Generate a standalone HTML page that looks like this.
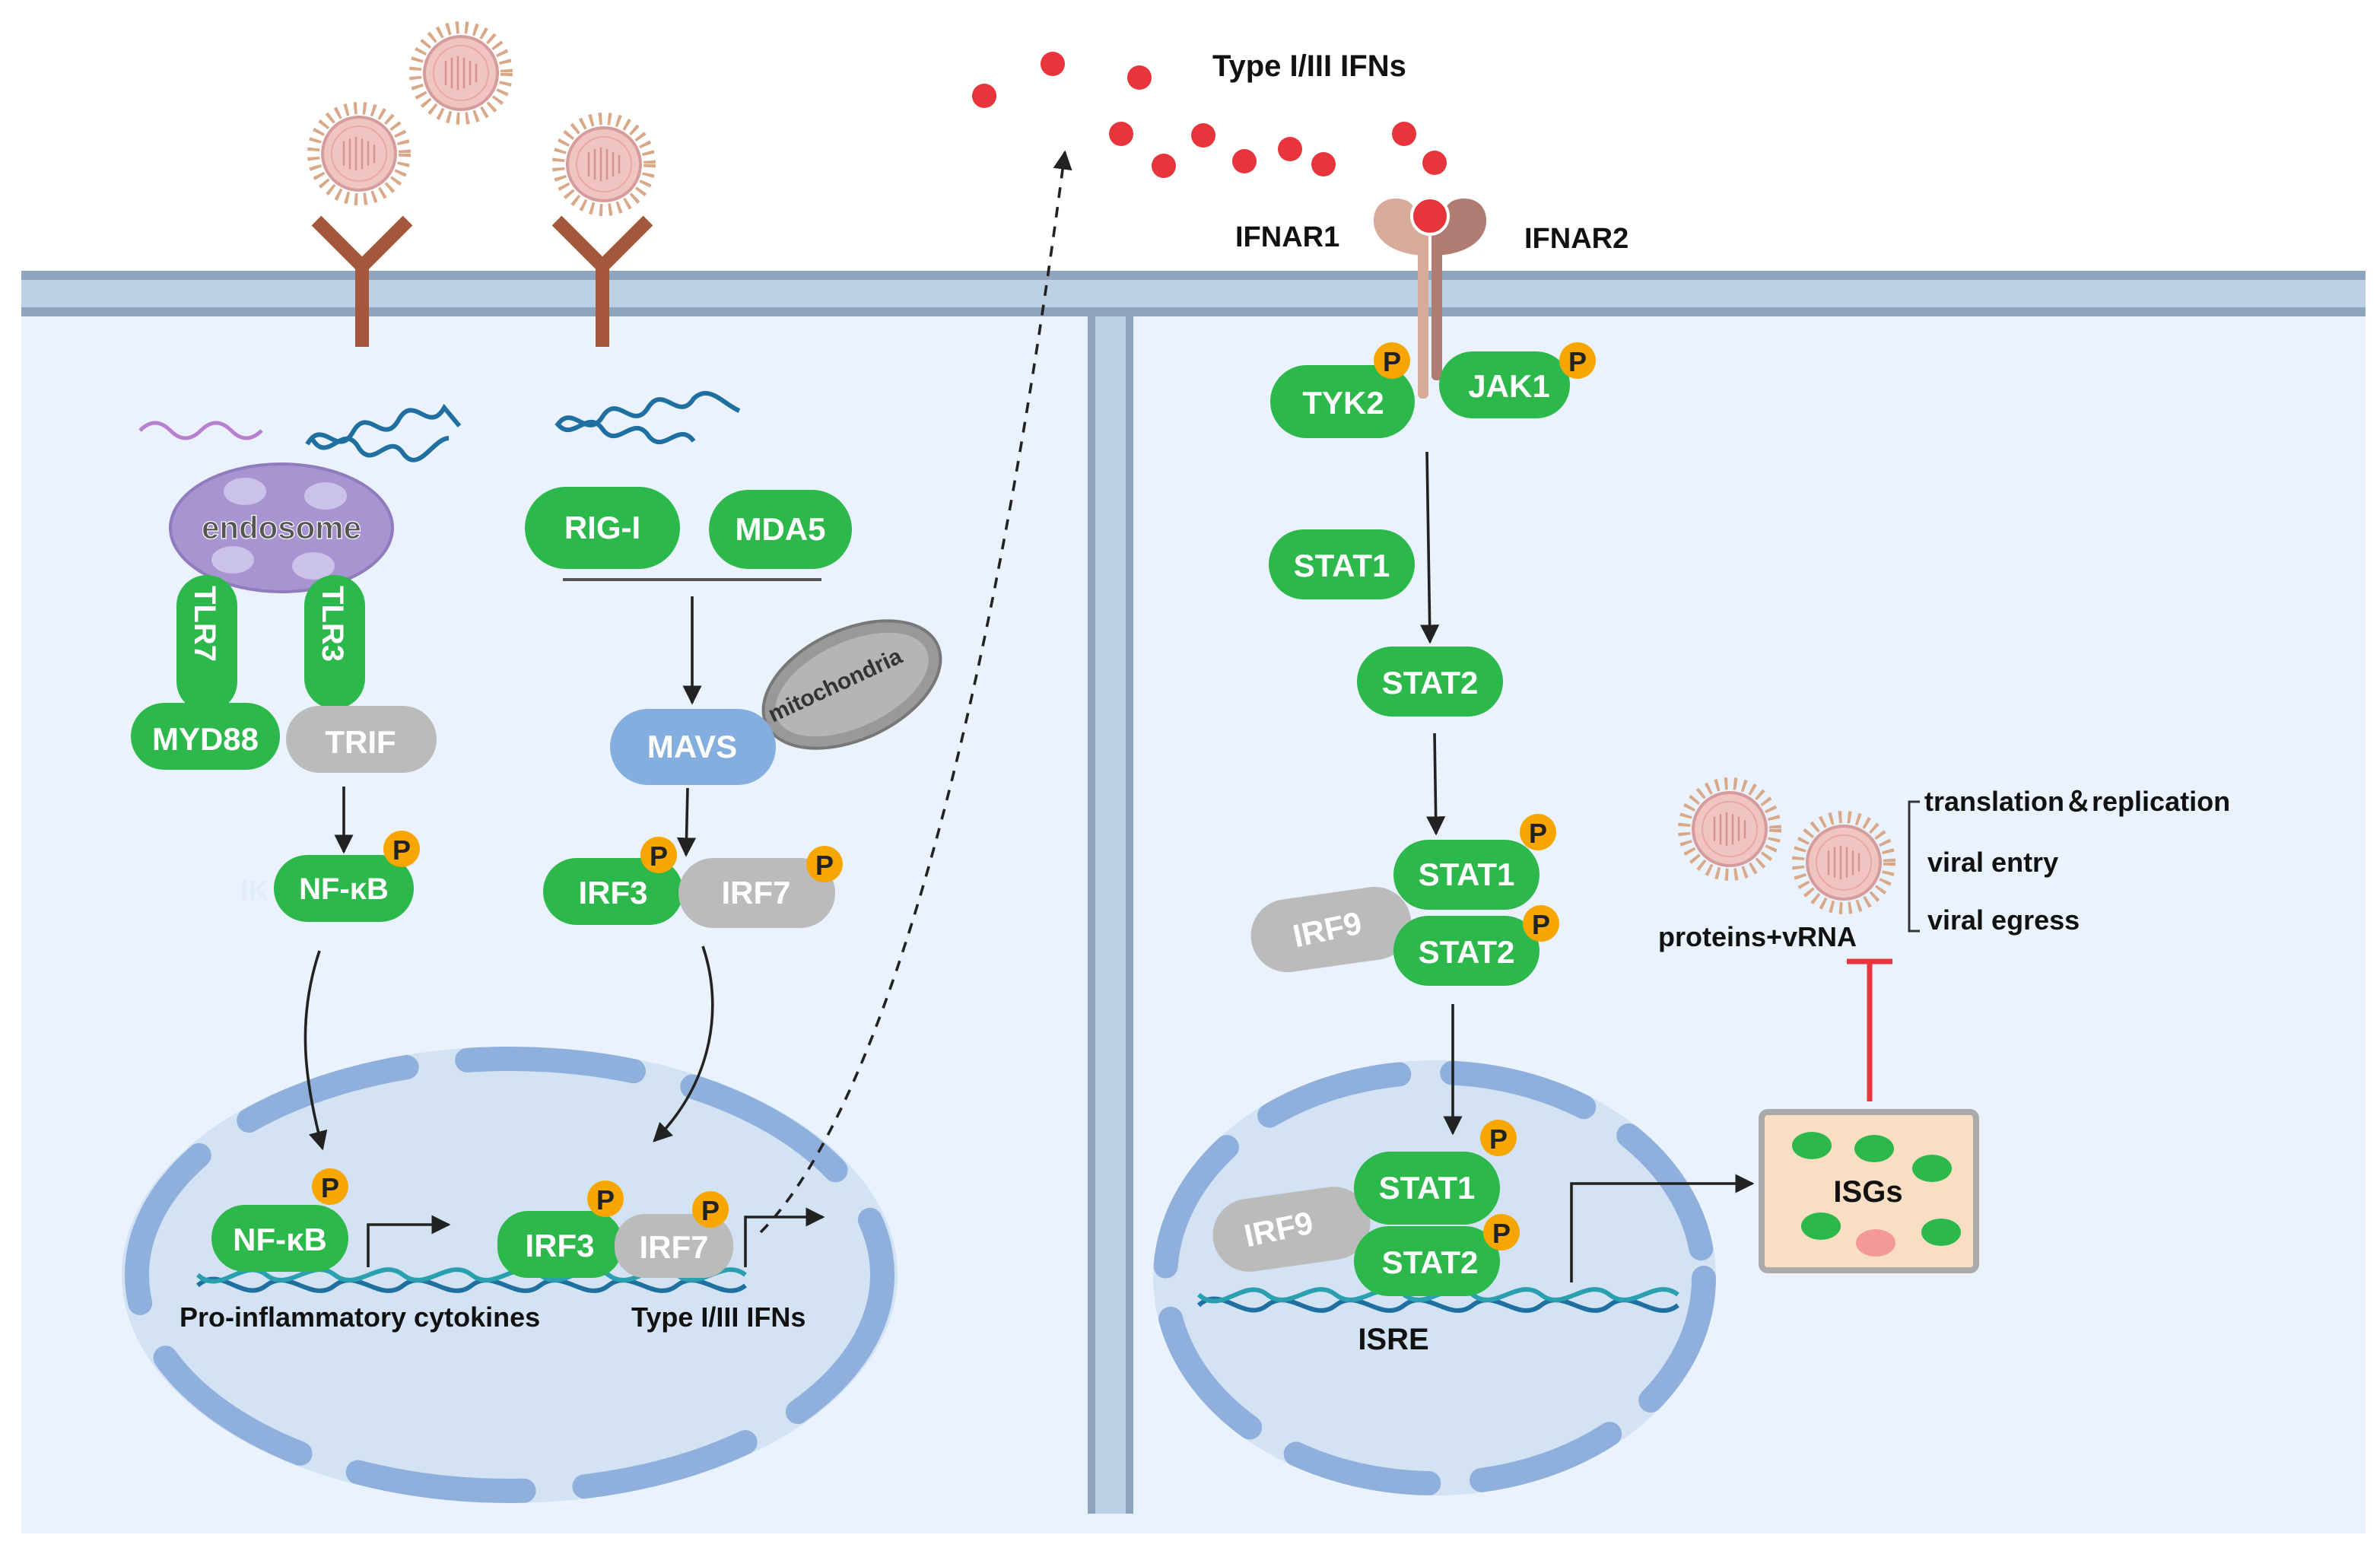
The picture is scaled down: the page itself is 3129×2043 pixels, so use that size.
<!DOCTYPE html>
<html><head><meta charset="utf-8"><style>
html,body{margin:0;padding:0;background:#fff}
svg{display:block}
text{font-family:"Liberation Sans",Arial,sans-serif;font-weight:bold}
.w{fill:#fff;font-size:21px;text-anchor:middle}
.k{fill:#111;font-size:19px}
</style></head><body>
<svg width="3129" height="2043" viewBox="0 0 1564.5 1021.5" xmlns="http://www.w3.org/2000/svg">
<defs>
<marker id="ah" viewBox="0 0 10 10" refX="9" refY="5" markerWidth="7" markerHeight="7" orient="auto"><path d="M0,0L10,5L0,10z" fill="#222"/></marker>
<g id="virus">
<circle r="30" fill="none" stroke="#d9a889" stroke-width="8" stroke-dasharray="2 4"/>
<circle r="24" fill="#f0c4c0" stroke="#d69c9c" stroke-width="2"/>
<circle r="18" fill="none" stroke="#e8a6a6" stroke-width="1"/>
<path d="M-10,-8v16M-6,-10v20M-2,-11v22M2,-10v20M6,-8v16M10,-6v12" stroke="#d89090" stroke-width="1.2"/>
</g>
<g id="P"><circle r="12" fill="#f7a600"/><text y="7" text-anchor="middle" style="font-size:18px;fill:#222">P</text></g>
</defs>
<rect width="1564.5" height="1021.5" fill="#fff"/>
<!-- cell -->
<rect x="14" y="205" width="1541" height="803" fill="#eaf3fd"/>
<rect x="14" y="178" width="1541" height="30" fill="#bcd0e6"/>
<rect x="14" y="178" width="1541" height="6" fill="#8ea5bf"/>
<rect x="14" y="202" width="1541" height="6" fill="#8ea5bf"/>
<rect x="715" y="208" width="30" height="787" fill="#bcd0e6"/>
<rect x="715" y="208" width="5" height="787" fill="#8ea5bf"/>
<rect x="740" y="208" width="5" height="787" fill="#8ea5bf"/>
<!-- nuclei -->
<ellipse cx="335" cy="838" rx="255" ry="150" fill="#d3e3f3"/>
<ellipse cx="335" cy="838" rx="245" ry="142" fill="none" stroke="#8fb0dc" stroke-width="16" stroke-linecap="round" stroke-dasharray="110 40"/>
<ellipse cx="943" cy="840" rx="185" ry="143" fill="#d3e3f3"/>
<ellipse cx="943" cy="840" rx="177" ry="135" fill="none" stroke="#8fb0dc" stroke-width="16" stroke-linecap="round" stroke-dasharray="90 35"/>
<!-- viruses & receptors -->
<use href="#virus" x="303" y="48"/><use href="#virus" x="236" y="101"/><use href="#virus" x="397" y="108"/>
<use href="#virus" x="1137" y="545"/><use href="#virus" x="1212" y="567"/>
<path d="M238,228V175M208,145L238,175L268,145" stroke="#a4573a" stroke-width="9" fill="none"/>
<path d="M396,228V175M366,145L396,175L426,145" stroke="#a4573a" stroke-width="9" fill="none"/>
<!-- IFN dots -->
<g fill="#e8343b"><circle cx="647" cy="63" r="8"/><circle cx="692" cy="42" r="8"/><circle cx="749" cy="51" r="8"/><circle cx="737" cy="88" r="8"/><circle cx="765" cy="109" r="8"/><circle cx="791" cy="89" r="8"/><circle cx="818" cy="106" r="8"/><circle cx="848" cy="98" r="8"/><circle cx="870" cy="108" r="8"/><circle cx="923" cy="88" r="8"/><circle cx="943" cy="107" r="8"/></g>
<text x="797" y="50" class="k" style="font-size:20px">Type I/III IFNs</text>
<!-- IFNAR -->
<rect x="932" y="150" width="7" height="112" rx="3" fill="#d8aa9a"/>
<rect x="941" y="150" width="7" height="100" rx="3" fill="#b07b70"/>
<path d="M938,168C920,168 903,160 903,145C903,132 915,128 925,132C932,136 938,150 938,168Z" fill="#d8aa9a"/>
<path d="M942,168C960,168 977,160 977,145C977,132 965,128 955,132C948,136 942,150 942,168Z" fill="#b07b70"/>
<circle cx="940" cy="142" r="12" fill="#e8343b" stroke="#fff" stroke-width="2"/>
<text x="812" y="162" class="k">IFNAR1</text><text x="1002" y="163" class="k">IFNAR2</text>
<!-- DNA left -->
<path d="M92,283q10,-10 20,0t20,0t20,0t20,0" stroke="#b77fd0" stroke-width="2.5" fill="none"/>
<path d="M202,292c10,-18 20,10 30,-8c10,-18 20,10 30,-8c10,-18 20,10 30,-8l10,12" stroke="#1f6fa0" stroke-width="3" fill="none"/>
<path d="M205,288c10,18 20,-10 30,5c10,18 20,-10 30,5c10,14 20,-10 30,-10" stroke="#1f6fa0" stroke-width="3" fill="none"/>
<path d="M366,280c10,-16 20,10 30,-6c10,-16 20,10 30,-6c10,-16 20,10 30,-6c10,-10 20,4 30,8" stroke="#1f6fa0" stroke-width="3" fill="none"/>
<path d="M366,278c10,14 20,-10 30,4c10,14 20,-10 30,4c10,14 20,-10 30,4" stroke="#1f6fa0" stroke-width="3" fill="none"/>
<!-- endosome -->
<ellipse cx="185" cy="347" rx="73" ry="42" fill="#a794d0" stroke="#8f7bbd" stroke-width="2"/>
<g fill="#cbc2ea"><ellipse cx="161" cy="323" rx="14" ry="9"/><ellipse cx="214" cy="326" rx="14" ry="9"/><ellipse cx="153" cy="368" rx="14" ry="9"/><ellipse cx="206" cy="372" rx="14" ry="9"/></g>
<text x="185" y="354" text-anchor="middle" style="font-size:21px;fill:#555;stroke:#fff;stroke-width:0.6">endosome</text>
<rect x="116" y="378" width="40" height="90" rx="20" fill="#2db84b"/>
<rect x="200" y="378" width="40" height="88" rx="20" fill="#2db84b"/>
<text transform="translate(128,410) rotate(90)" class="w" style="font-size:20px">TLR7</text>
<text transform="translate(212,410) rotate(90)" class="w" style="font-size:20px">TLR3</text>
<rect x="86" y="462" width="98" height="44" rx="22" fill="#2db84b"/><text x="135" y="493" class="w">MYD88</text>
<rect x="188" y="464" width="99" height="44" rx="22" fill="#bbb"/><text x="237" y="495" class="w">TRIF</text>
<rect x="180" y="562" width="92" height="44" rx="22" fill="#2db84b"/><text x="226" y="591" class="w" style="font-size:20px">NF-κB</text>
<use href="#P" x="264" y="558"/>
<text x="158" y="592" style="font-size:19px;fill:#e0ecf8">IK</text>
<!-- RIG-I -->
<rect x="345" y="320" width="102" height="54" rx="27" fill="#2db84b"/><text x="396" y="354" class="w">RIG-I</text>
<rect x="466" y="322" width="94" height="52" rx="26" fill="#2db84b"/><text x="513" y="355" class="w">MDA5</text>
<line x1="370" y1="381" x2="540" y2="381" stroke="#555" stroke-width="2"/>
<!-- mitochondria -->
<ellipse cx="560" cy="450" rx="62" ry="36" transform="rotate(-25 560 450)" fill="#999" stroke="#777" stroke-width="2"/>
<ellipse cx="560" cy="450" rx="54" ry="28" transform="rotate(-25 560 450)" fill="#b5b5b5"/>
<text transform="translate(508,475) rotate(-25)" style="font-size:15px;fill:#333">mitochondria</text>
<rect x="401" y="466" width="109" height="50" rx="25" fill="#85aee0"/><text x="455" y="498" class="w">MAVS</text>
<rect x="357" y="564" width="92" height="44" rx="22" fill="#2db84b"/><text x="403" y="594" class="w">IRF3</text>
<rect x="446" y="564" width="103" height="46" rx="23" fill="#bbb"/><text x="497" y="594" class="w">IRF7</text>
<use href="#P" x="433" y="562"/><use href="#P" x="542" y="568"/>
<!-- left arrows -->
<g stroke="#222" stroke-width="1.8" fill="none" marker-end="url(#ah)">
<line x1="226" y1="517" x2="226" y2="560"/>
<line x1="455" y1="392" x2="455" y2="462"/>
<line x1="452" y1="518" x2="451" y2="562"/>
<path d="M210,625C195,670 200,710 212,755"/>
<path d="M462,622C475,660 470,710 430,750"/>
</g>
<path d="M500,810C560,750 640,560 700,100" stroke="#222" stroke-width="1.8" fill="none" stroke-dasharray="7 6" marker-end="url(#ah)"/>
<!-- left nucleus content -->
<path d="M130,845c15,-14 30,12 45,0s30,12 45,0s30,12 45,0s30,12 45,0s30,12 45,0s30,12 45,0s30,12 45,0s30,12 45,0" stroke="#1f6fa0" stroke-width="3" fill="none"/>
<path d="M130,838c15,14 30,-12 45,0s30,-12 45,0s30,-12 45,0s30,-12 45,0s30,-12 45,0s30,-12 45,0s30,-12 45,0s30,-12 45,0" stroke="#2a9fb0" stroke-width="3" fill="none"/>
<rect x="139" y="792" width="90" height="44" rx="22" fill="#2db84b"/><text x="184" y="822" class="w">NF-κB</text>
<use href="#P" x="217" y="780"/>
<rect x="327" y="796" width="82" height="44" rx="20" fill="#2db84b"/><text x="368" y="826" class="w">IRF3</text>
<rect x="404" y="798" width="78" height="42" rx="20" fill="#bbb"/><text x="443" y="827" class="w">IRF7</text>
<use href="#P" x="398" y="788"/><use href="#P" x="467" y="795"/>
<g stroke="#222" stroke-width="1.8" fill="none" marker-end="url(#ah)">
<path d="M242,833V805H295"/><path d="M490,833V800H541"/>
</g>
<text x="118" y="872" class="k" style="font-size:18px">Pro-inflammatory cytokines</text>
<text x="415" y="872" class="k" style="font-size:18px">Type I/III IFNs</text>
<!-- right side -->
<rect x="835" y="240" width="95" height="48" rx="24" fill="#2db84b"/><text x="883" y="272" class="w">TYK2</text>
<rect x="946" y="231" width="86" height="44" rx="22" fill="#2db84b"/><text x="992" y="261" class="w">JAK1</text>
<use href="#P" x="915" y="237"/><use href="#P" x="1037" y="237"/>
<rect x="834" y="348" width="96" height="46" rx="23" fill="#2db84b"/><text x="882" y="379" class="w">STAT1</text>
<rect x="892" y="425" width="96" height="46" rx="23" fill="#2db84b"/><text x="940" y="456" class="w">STAT2</text>
<rect x="822" y="587" width="106" height="48" rx="24" transform="rotate(-8 875 611)" fill="#bbb"/><text transform="translate(874,618) rotate(-12)" class="w">IRF9</text>
<rect x="916" y="552" width="96" height="46" rx="23" fill="#2db84b"/><text x="964" y="582" class="w">STAT1</text>
<rect x="916" y="602" width="96" height="46" rx="23" fill="#2db84b"/><text x="964" y="633" class="w">STAT2</text>
<use href="#P" x="1011" y="547"/><use href="#P" x="1013" y="607"/>
<g stroke="#222" stroke-width="1.8" fill="none" marker-end="url(#ah)">
<line x1="938" y1="297" x2="940" y2="422"/>
<line x1="943" y1="482" x2="944" y2="548"/>
<line x1="955" y1="660" x2="955" y2="745"/>
<path d="M1033,843V778H1152"/>
</g>
<path d="M788,858c15,-14 30,12 45,0s30,12 45,0s30,12 45,0s30,12 45,0s30,12 45,0s30,12 45,0s30,12 45,0" stroke="#1f6fa0" stroke-width="3" fill="none"/>
<path d="M788,851c15,14 30,-12 45,0s30,-12 45,0s30,-12 45,0s30,-12 45,0s30,-12 45,0s30,-12 45,0s30,-12 45,0" stroke="#2a9fb0" stroke-width="3" fill="none"/>
<rect x="797" y="784" width="104" height="48" rx="24" transform="rotate(-8 849 808)" fill="#bbb"/><text transform="translate(842,815) rotate(-12)" class="w">IRF9</text>
<rect x="890" y="757" width="96" height="48" rx="24" fill="#2db84b"/><text x="938" y="788" class="w">STAT1</text>
<rect x="890" y="806" width="96" height="46" rx="23" fill="#2db84b"/><text x="940" y="837" class="w">STAT2</text>
<use href="#P" x="985" y="748"/><use href="#P" x="987" y="810"/>
<text x="916" y="887" text-anchor="middle" class="k" style="font-size:20px">ISRE</text>
<!-- ISGs -->
<rect x="1158" y="731" width="141" height="104" rx="4" fill="#f8dfc4" stroke="#aaa" stroke-width="4"/>
<g fill="#2db84b"><ellipse cx="1191" cy="753" rx="13" ry="9"/><ellipse cx="1232" cy="755" rx="13" ry="9"/><ellipse cx="1270" cy="768" rx="13" ry="9"/><ellipse cx="1197" cy="806" rx="13" ry="9"/><ellipse cx="1276" cy="810" rx="13" ry="9"/></g>
<ellipse cx="1233" cy="817" rx="13" ry="9" fill="#f39999"/>
<text x="1228" y="790" text-anchor="middle" class="k" style="font-size:20px">ISGs</text>
<path d="M1229,724V632M1214,632H1244" stroke="#e8343b" stroke-width="3.5" fill="none"/>
<text x="1090" y="622" class="k" style="font-size:18px">proteins+vRNA</text>
<path d="M1262,527H1255V612H1262" stroke="#333" stroke-width="1.5" fill="none"/>
<text x="1265" y="533" class="k" style="font-size:18px">translation＆replication</text>
<text x="1267" y="573" class="k" style="font-size:18px">viral entry</text>
<text x="1267" y="611" class="k" style="font-size:18px">viral egress</text>
</svg>
</body></html>
